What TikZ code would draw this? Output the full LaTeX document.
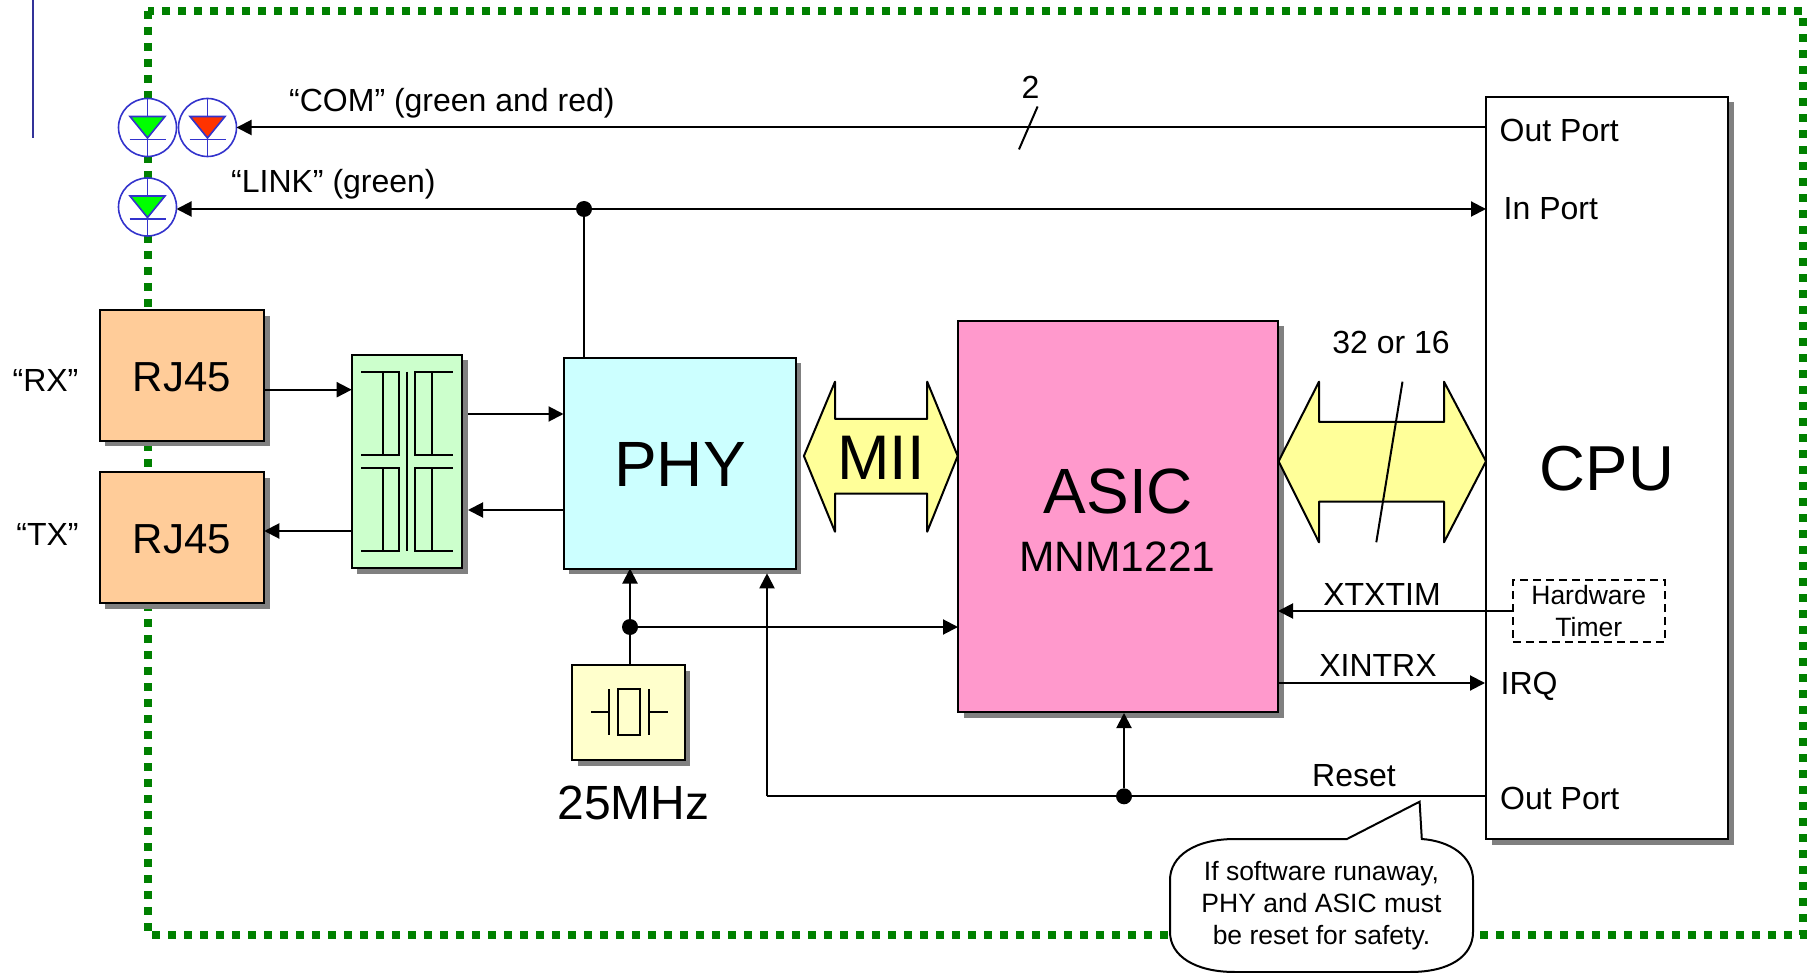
\documentclass[tikz,border=0pt]{standalone}
\usepackage{fontspec}
\setmainfont{Liberation Sans}
\usetikzlibrary{arrows.meta,shadows}

\definecolor{framegreen}{HTML}{008000}
\definecolor{ledblue}{HTML}{3333CC}
\definecolor{rulerblue}{HTML}{333399}
\definecolor{ledred}{HTML}{FF3300}
\definecolor{shadowgray}{HTML}{808080}
\definecolor{rjorange}{HTML}{FFCC99}
\definecolor{xfmrgreen}{HTML}{CCFFCC}
\definecolor{phycyan}{HTML}{CCFFFF}
\definecolor{asicpink}{HTML}{FF99CC}
\definecolor{xtalyellow}{HTML}{FFFFCC}
\definecolor{busyellow}{HTML}{FFFF99}

\tikzset{
	unit/.style={draw,line width=2pt,inner sep=0pt,outer sep=0pt,
		drop shadow={shadow xshift=5.5pt,shadow yshift=-5.5pt,fill=shadowgray,opacity=1}},
	led/.style={circle,draw=ledblue,line width=1.6pt,fill=white,minimum size=58pt,inner sep=0pt,outer sep=0pt},
	ledline/.style={draw=ledblue,line width=1.6pt},
	dot/.style={circle,fill=black,minimum size=16pt,inner sep=0pt,outer sep=0pt},
	sig/.style={line width=2pt,-{Triangle[length=15pt,width=15pt]}},
	wire/.style={line width=2pt},
	bus/.style={draw,line width=2pt,fill=busyellow,line join=round},
	small/.style={font=\fontsize{32}{38}\selectfont,inner sep=0pt},
	tiny/.style={font=\fontsize{26.5}{32}\selectfont,inner sep=0pt,align=center},
}

\newcommand{\ledmark}[2]{
\draw[ledline] (#1.north) -- (#1.south);
\begin{scope}[shift={(#1.center)}]
\draw[ledline,fill=#2] (-17.5,-11) -- (17.5,-11) -- (0,10.5) -- cycle;
\draw[ledline] (-18,12) -- (18,12);
\end{scope}
}

\begin{document}
\begin{tikzpicture}[x=1pt,y=-1pt]
\useasboundingbox (0,0) rectangle (1816,973);

\draw[draw=rulerblue,line width=2pt] (33,0) -- (33,138);
\draw[framegreen,line width=8pt,dash pattern=on 8pt off 8pt] (148,11) rectangle (1803,935);

% boxes
\node[unit,fill=rjorange,minimum width=164.5pt,minimum height=130.5pt] (rjrx) at (182,375.3)
	{};
\node[unit,fill=rjorange,minimum width=164.5pt,minimum height=131pt] (rjtx) at (182,537.8)
	{};
\node[unit,fill=xfmrgreen,minimum width=110.6pt,minimum height=213.6pt] (xfmr) at (407,461.5)
	{};
\node[unit,fill=phycyan,minimum width=232.2pt,minimum height=210.8pt] (phy) at (679.6,463.1)
	{};
\node[unit,fill=asicpink,minimum width=320pt,minimum height=391pt] (asic) at (1118,516.5)
	{};
\node[unit,fill=white,minimum width=242pt,minimum height=742pt] (cpu) at (1607,468)
	{};
\node[unit,fill=xtalyellow,minimum width=112.7pt,minimum height=95pt] (xtal) at (628.6,712.5)
	{};

% leds
\node[led] (ledgreen) at (147.5,127.5) {};
\node[led] (ledcom) at (207.5,127.5) {};
\node[led] (ledlink) at (147.5,207) {};
\ledmark{ledgreen}{green}
\ledmark{ledcom}{ledred}
\ledmark{ledlink}{green}

% junctions and free ends
\node[dot] (linkdot) at (584,209) {};
\node[dot] (clkdot) at (630,627) {};
\node[dot] (resetdot) at (1124,796.3) {};
\coordinate (rxlevel) at (300,389.7);
\coordinate (txlevel) at (300,531);
\coordinate (phyin) at (468,414);
\coordinate (phyout) at (468,510);
\coordinate (resetcorner) at (767,796.3);
\coordinate (resetup) at (767,573.3);
\coordinate (asicup) at (1124,713);
\coordinate (irqend) at (1485,683);
\coordinate (intlevel) at (1278,683);

\draw[sig] (cpu.west |- ledcom) -- (ledcom.east);
\draw[sig] (linkdot) -- (ledlink.east |- linkdot);
\draw[sig] (linkdot) -- (cpu.west |- linkdot);
\draw[wire] (linkdot) -- (linkdot |- phy.north);
\draw[sig] (rjrx.east |- rxlevel) -- (xfmr.west |- rxlevel);
\draw[sig] (xfmr.west |- txlevel) -- (rjtx.east |- txlevel);
\draw[sig] (phyin) -- (phy.west |- phyin);
\draw[sig] (phy.west |- phyout) -- (phyout);
\draw[wire] (xtal.north -| clkdot) -- (clkdot);
\draw[sig] (clkdot) -- (clkdot |- phy.south);
\draw[sig] (clkdot) -- (asic.west |- clkdot);
\draw[wire] (cpu.west |- resetdot) -- (resetcorner);
\draw[sig] (resetcorner) -- (resetup);
\draw[sig] (resetdot) -- (asicup);
\draw[sig] (intlevel) -- (irqend);

% transformer windings
\foreach \y in {371.7,468.3}
{
\draw[wire] (361,\y) -- (399,\y) -- (399,\y+83) -- (361,\y+83);
\draw[wire] (382.7,\y) -- (382.7,\y+83);
\draw[wire] (452.7,\y) -- (415,\y) -- (415,\y+83) -- (452.7,\y+83);
\draw[wire] (431.7,\y) -- (431.7,\y+83);
}
\draw[wire] (407.3,371.7) -- (407.3,550.7);

% crystal
\draw[wire] (591,711.7) -- (608.7,711.7);
\draw[wire] (608.7,689) -- (608.7,735);
\draw[wire] (617.7,689) rectangle (640.3,735);
\draw[wire] (649,689) -- (649,735);
\draw[wire] (649,711.7) -- (668.3,711.7);

% busses
\draw[bus] (803.9,456) -- (835,381.7) -- (835,419) -- (927.2,419) -- (927.2,381.7) -- (957.7,456)
	-- (927.2,531.7) -- (927.2,493.7) -- (835,493.7) -- (835,531.7) -- cycle;
\draw[bus] (1278.6,461.3) -- (1319,381.7) -- (1319,422) -- (1444,422) -- (1444,381.7) -- (1486,461.3)
	-- (1444,542.3) -- (1444,501.7) -- (1319,501.7) -- (1319,542.3) -- cycle;
\draw[wire] (1402.5,381.7) -- (1376.3,542.3);
\draw[wire] (1037.6,106.5) -- (1019,149.4);

% timer
\node[draw,dash pattern=on 8pt off 5pt,line width=2pt,fill=white,minimum width=152pt,minimum height=62pt,inner sep=0pt,outer sep=0pt,tiny] (timer) at (1588.8,611)
	{Hardware\\Timer};
\draw[sig] (timer.west) -- (asic.east |- timer.west);

% callout
\draw[line width=2pt,fill=white] (1347,839) -- (1419.6,801.7) -- (1421.8,839)
	.. controls (1450,841) and (1473,856) .. (1473,880) -- (1473,932)
	.. controls (1473,956) and (1450,972) .. (1410,972) -- (1235,972)
	.. controls (1195,972) and (1170,956) .. (1170,932) -- (1170,880)
	.. controls (1170,856) and (1195,839) .. (1235,839) -- cycle;
\node[tiny] (note) at (1321.5,905.5)
	{If software runaway,\\PHY and ASIC must\\be reset for safety.};

% labels
\node[font=\fontsize{42}{48}\selectfont,inner sep=0pt] (rxjack) at (182,377) {RJ45};
\node[font=\fontsize{42}{48}\selectfont,inner sep=0pt] (txjack) at (182,539) {RJ45};
\node[font=\fontsize{64}{70}\selectfont,inner sep=0pt] (phylabel) at (680,464) {PHY};
\node[font=\fontsize{63}{70}\selectfont,inner sep=0pt] (miilabel) at (881,457.5) {MII};
\node[font=\fontsize{64}{72}\selectfont,inner sep=0pt] (asiclabel) at (1118.5,491.5) {ASIC};
\node[font=\fontsize{42.5}{48}\selectfont,inner sep=0pt] (asicpart) at (1117.5,556.5) {MNM1221};
\node[font=\fontsize{63.5}{70}\selectfont,inner sep=0pt] (cpulabel) at (1607,469) {CPU};
\node[font=\fontsize{48}{54}\selectfont,inner sep=0pt] (freq) at (633.5,802.5) {25MHz};
\node[small] (buswidth) at (1391,342) {32 or 16};
\node[small] (comwidth) at (1030.6,87) {2};
\node[small,anchor=west] (comlabel) at (289,103) {“COM” (green and red)};
\node[small,anchor=west] (linklabel) at (231,184) {“LINK” (green)};
\node[small] (rxlabel) at (45.5,380.5) {“RX”};
\node[small] (txlabel) at (47.5,534) {“TX”};
\node[small,anchor=west] (outtop) at (1499.5,130) {Out Port};
\node[small,anchor=west] (inport) at (1503.5,209) {In Port};
\node[small,anchor=west] (irq) at (1500.5,686) {IRQ};
\node[small,anchor=west] (outbot) at (1500,798) {Out Port};
\node[small] (xtxtim) at (1382,594) {XTXTIM};
\node[small] (xintrx) at (1378,665) {XINTRX};
\node[small] (resetlabel) at (1354,776) {Reset};
\end{tikzpicture}
\end{document}
